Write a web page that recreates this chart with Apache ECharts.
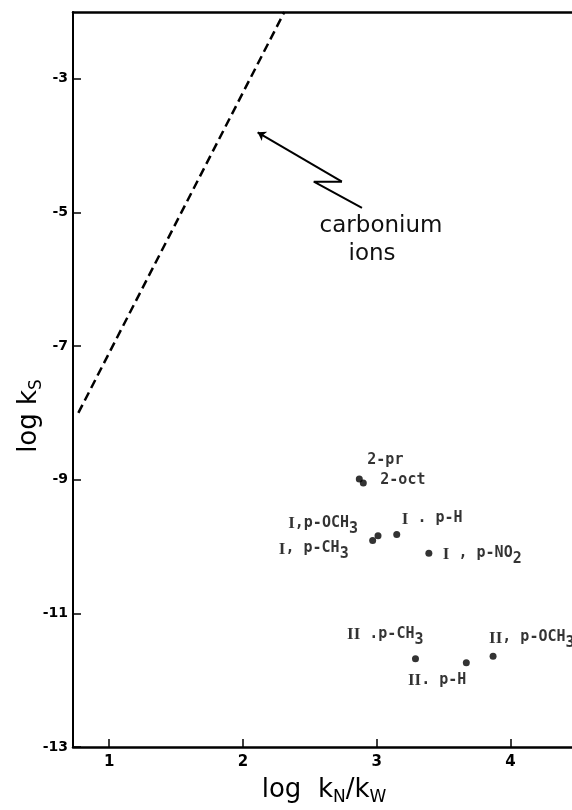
<!DOCTYPE html>
<html><head><meta charset="utf-8">
<script src="https://cdn.jsdelivr.net/npm/echarts@6/dist/echarts.min.js"></script>
<style>html,body{margin:0;padding:0;background:#fff}#c{width:572px;height:810px}</style>
</head><body><div id="c"></div>
<script>
// ---- data ----
const compounds = ['2-pr', '2-oct', 'I,p-OCH3', 'I,p-CH3', 'I,p-H', 'I,p-NO2', 'II,p-CH3', 'II,p-H', 'II,p-OCH3'];
const logKnKw = [2.87, 2.90, 3.01, 2.97, 3.15, 3.39, 3.29, 3.67, 3.87];
const logKs = [-8.99, -9.05, -9.84, -9.91, -9.82, -10.10, -11.68, -11.74, -11.64];
const pointLabels = [
  '{n|2-pr}', '{n|2-oct}', '{r|I}{n|,p-OCH}{s|3}', '{r|I}{n|, p-CH}{s|3}', '{r|I}{n| . p-H}',
  '{r|I}{n| , p-NO}{s|2}', '{r|II}{n| .p-CH}{s|3}', '{r|II}{n|. p-H}', '{r|II}{n|, p-OCH}{s|3}'
];
const carboniumX = [0.77, 2.31];
const carboniumY = [-8.0, -2.0];
const arrowX = [2.89, 2.53, 2.74, 2.11];
const arrowY = [-4.93, -4.54, -4.54, -3.80];
const xTicks = [1, 2, 3, 4];
const yTicks = [-13, -11, -9, -7, -5, -3];
const annotationLines = ['carbonium', 'ions'];

// ---- label placement (pixels relative to point) ----
const labelLayout = {
  '2-pr': { align: 'left', dx: 8, dy: -19 },
  '2-oct': { align: 'left', dx: 17, dy: -3 },
  'I,p-OCH3': { align: 'right', dx: -20, dy: -13 },
  'I,p-CH3': { align: 'right', dx: -24, dy: 8 },
  'I,p-H': { align: 'left', dx: 5, dy: -16 },
  'I,p-NO2': { align: 'left', dx: 14, dy: 0 },
  'II,p-CH3': { align: 'right', dx: 8, dy: -25 },
  'II,p-H': { align: 'right', dx: 0, dy: 17 },
  'II,p-OCH3': { align: 'left', dx: -4, dy: -19 }
};
const rich = {
  n: { fontFamily: 'DejaVu Sans Mono', fontWeight: 'bold', fontSize: 15, lineHeight: 15, verticalAlign: 'top', color: '#000' },
  r: { fontFamily: 'Liberation Serif', fontWeight: 'bold', fontSize: 17, lineHeight: 15, verticalAlign: 'top', color: '#000' },
  s: { fontFamily: 'DejaVu Sans Mono', fontWeight: 'bold', fontSize: 15, lineHeight: 21, verticalAlign: 'bottom', color: '#000' }
};
const titleRich = {
  m: { fontFamily: 'DejaVu Sans', fontSize: 26, lineHeight: 26, verticalAlign: 'top', color: '#111' },
  b: { fontFamily: 'DejaVu Sans', fontSize: 17, lineHeight: 29, verticalAlign: 'bottom', color: '#111' }
};

const pts = compounds.map((c, i) => {
  const L = labelLayout[c];
  return {
    name: c,
    value: [logKnKw[i], logKs[i]],
    label: {
      show: true, position: 'inside', formatter: pointLabels[i],
      align: L.align, verticalAlign: 'top', offset: [L.dx, L.dy - 7.5], rich: rich
    }
  };
});

const chart = echarts.init(document.getElementById('c'), null, { renderer: 'canvas' });
const axisFont = { fontFamily: 'DejaVu Sans', fontWeight: 'bold', color: '#000' };
chart.setOption({
  animation: false,
  backgroundColor: '#fff',
  grid: { left: 73, right: 0, top: 12, bottom: 63, containLabel: false },
  xAxis: [
    {
      type: 'value', min: 0.73, max: 4.46, position: 'bottom',
      axisLine: { lineStyle: { color: '#000', width: 2.5 } },
      axisTick: { inside: true, length: 8, customValues: xTicks, lineStyle: { color: '#000', width: 1.5 } },
      axisLabel: Object.assign({ customValues: xTicks, fontSize: 15, margin: 8 }, axisFont),
      splitLine: { show: false }
    },
    {
      type: 'value', min: 0.73, max: 4.46, position: 'top',
      axisLine: { show: true, lineStyle: { color: '#000', width: 2.5 } },
      axisTick: { show: false }, axisLabel: { show: false }, splitLine: { show: false }
    }
  ],
  yAxis: {
    type: 'value', min: -13, max: -2,
    axisLine: { show: true, lineStyle: { color: '#000', width: 2 } },
    axisTick: { show: true, inside: true, length: 8, customValues: yTicks, lineStyle: { color: '#000', width: 1.5 } },
    axisLabel: Object.assign({ customValues: yTicks, fontSize: 14, margin: 5 }, axisFont),
    splitLine: { show: false }
  },
  graphic: [
    {
      type: 'text', x: 324, y: 792,
      style: { text: '{m|log  k}{b|N}{m|/k}{b|W}', align: 'center', verticalAlign: 'middle', rich: titleRich }
    },
    {
      type: 'text', x: 31, y: 416, rotation: Math.PI / 2,
      style: { text: '{m|log k}{b|S}', align: 'center', verticalAlign: 'middle', rich: titleRich }
    },
    {
      type: 'text', x: 381, y: 226,
      style: { text: annotationLines[0], fontFamily: 'DejaVu Sans', fontSize: 23, fill: '#111', align: 'center', verticalAlign: 'middle' }
    },
    {
      type: 'text', x: 372, y: 254,
      style: { text: annotationLines[1], fontFamily: 'DejaVu Sans', fontSize: 23, fill: '#111', align: 'center', verticalAlign: 'middle' }
    }
  ],
  series: [
    {
      type: 'line', data: carboniumX.map((x, i) => [x, carboniumY[i]]),
      showSymbol: false, symbol: 'none', silent: true,
      lineStyle: { color: '#000', width: 2.5, type: [9, 5] }
    },
    {
      type: 'line', data: arrowX.slice(0, 3).map((x, i) => [x, arrowY[i]]),
      showSymbol: false, symbol: 'none', silent: true,
      lineStyle: { color: '#000', width: 2 }
    },
    {
      type: 'lines', coordinateSystem: 'cartesian2d', silent: true,
      symbol: ['none', 'arrow'], symbolSize: 8,
      lineStyle: { color: '#000', width: 2, opacity: 1, curveness: 0 },
      data: [{ coords: [[arrowX[2], arrowY[2]], [arrowX[3], arrowY[3]]] }]
    },
    {
      type: 'scatter', data: pts, symbol: 'circle', symbolSize: 7, silent: true,
      itemStyle: { color: '#000' }
    }
  ]
});
</script>
</body></html>
